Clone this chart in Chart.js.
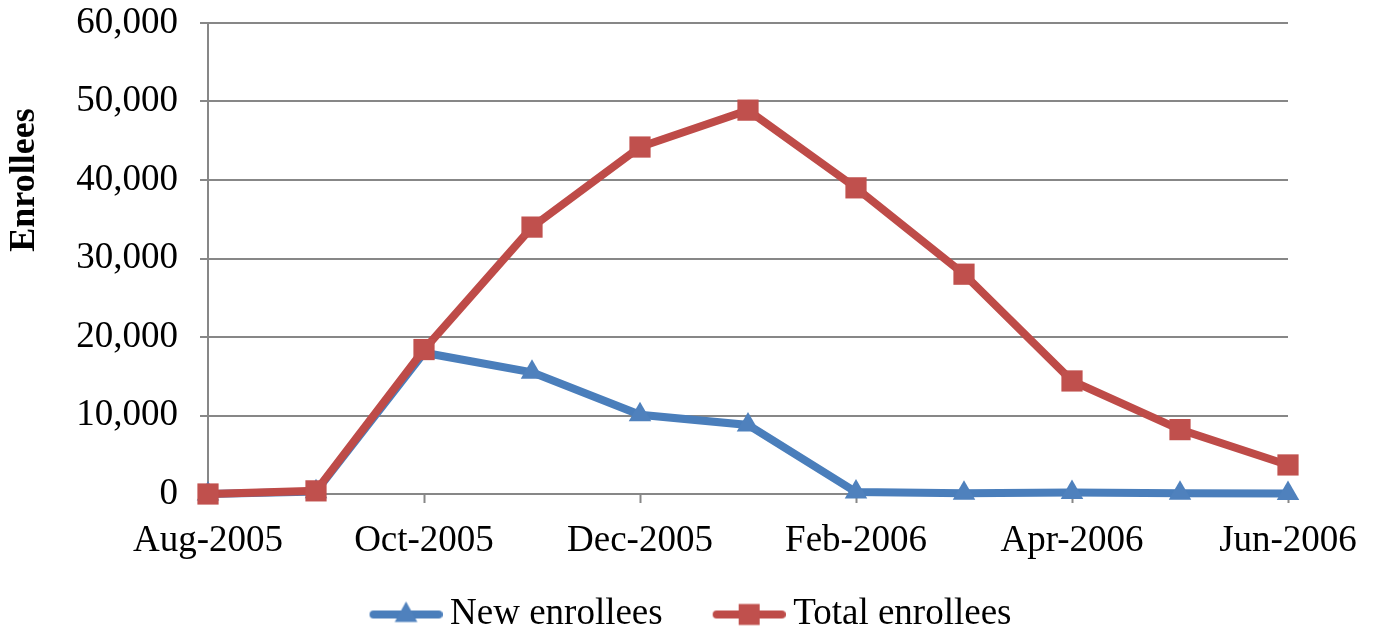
<!DOCTYPE html>
<html>
<head>
<meta charset="utf-8">
<script src="https://cdn.jsdelivr.net/npm/chart.js@4.4.1/dist/chart.umd.min.js"></script>
<style>
    html, body { margin: 0; padding: 0; background: #fff; }
    #wrap { width: 1377px; height: 637px; }
</style>
</head>
<body>
<div id="wrap"><canvas id="chart" width="1377" height="637"></canvas></div>
<script>
// Data
const months = ['Aug-2005', 'Sep-2005', 'Oct-2005', 'Nov-2005', 'Dec-2005', 'Jan-2006',
    'Feb-2006', 'Mar-2006', 'Apr-2006', 'May-2006', 'Jun-2006'];
const newEnrollees = [0, 300, 18000, 15500, 10100, 8800, 250, 100, 200, 100, 50];
const totalEnrollees = [0, 400, 18400, 34000, 44200, 48900, 39000, 28000, 14400, 8200, 3700];
const seriesNames = ['New enrollees', 'Total enrollees'];
const yTitle = 'Enrollees';
const yMax = 60000;
const yStep = 10000;

const FONT = '"Liberation Serif", "Times New Roman", serif';
const GRID = '#878787';
const BLUE_LINE = '#4A7EBB';
const BLUE_FILL = '#4F81BD';
const RED_LINE = '#BE4B48';
const RED_FILL = '#C0504D';

// legend swatch: a short line with the marker in the middle
function legendSwatch(lineColor, fillColor, shape) {
    const c = document.createElement('canvas');
    c.width = 124;
    c.height = 30;
    const g = c.getContext('2d');
    g.strokeStyle = lineColor;
    g.lineWidth = 8;
    g.lineCap = 'round';
    g.beginPath();
    g.moveTo(55, 15);
    g.lineTo(120, 15);
    g.stroke();

    const cx = 87.5, cy = 15;
    g.fillStyle = fillColor;
    g.beginPath();
    if (shape === 'rect') {
        g.rect(cx - 10.5, cy - 10.5, 21, 21);
    } else {
        g.moveTo(cx, cy - 13);
        g.lineTo(cx + 11.3, cy + 7.5);
        g.lineTo(cx - 11.3, cy + 7.5);
        g.closePath();
    }
    g.fill();
    return c;
}

const swatches = [
    legendSwatch(BLUE_LINE, BLUE_FILL, 'triangle'),
    legendSwatch(RED_LINE, RED_FILL, 'rect')
];

// the y title sits above the middle of the axis in the original
const yTitlePlugin = {
    id: 'yTitle',
    afterDraw(chart) {
        const c = chart.ctx;
        c.save();
        c.translate(25, 180);
        c.rotate(-Math.PI / 2);
        c.font = 'bold 36px ' + FONT;
        c.fillStyle = '#000';
        c.textAlign = 'center';
        c.textBaseline = 'middle';
        c.fillText(yTitle, 0, 0);
        c.restore();
    }
};

const ctx = document.getElementById('chart').getContext('2d');
new Chart(ctx, {
    type: 'line',
    data: {
        labels: months,
        datasets: [{
            label: seriesNames[0],
            data: newEnrollees,
            borderColor: BLUE_LINE,
            backgroundColor: BLUE_FILL,
            borderWidth: 8,
            pointStyle: 'triangle',
            pointRadius: 13,
            pointBorderWidth: 0,
            pointBackgroundColor: BLUE_FILL,
            tension: 0,
            clip: false,
            order: 1
        }, {
            label: seriesNames[1],
            data: totalEnrollees,
            borderColor: RED_LINE,
            backgroundColor: RED_FILL,
            borderWidth: 8,
            pointStyle: 'rect',
            pointRadius: 15,
            pointBorderWidth: 0,
            pointBackgroundColor: RED_FILL,
            tension: 0,
            clip: false,
            order: 0
        }]
    },
    options: {
        responsive: false,
        animation: false,
        layout: {
            padding: { top: 23, right: 36, bottom: -6, left: 0 }
        },
        plugins: {
            tooltip: { enabled: false },
            legend: {
                position: 'bottom',
                labels: {
                    usePointStyle: true,
                    pointStyleWidth: 102,
                    padding: 10,
                    color: '#000',
                    font: { family: FONT, size: 37 },
                    generateLabels: (chart) => chart.data.datasets.map((ds, i) => ({
                        text: ds.label,
                        pointStyle: swatches[i],
                        fillStyle: ds.backgroundColor,
                        strokeStyle: ds.borderColor,
                        lineWidth: 0,
                        hidden: false,
                        datasetIndex: i,
                        fontColor: '#000'
                    }))
                }
            }
        },
        scales: {
            x: {
                grid: {
                    drawOnChartArea: false,
                    drawTicks: true,
                    tickLength: 9,
                    tickWidth: 2,
                    tickColor: (c) => (c.index % 2 === 0 && c.index > 0) ? GRID : 'rgba(0,0,0,0)'
                },
                border: { display: true, color: GRID, width: 2 },
                ticks: {
                    autoSkip: false,
                    maxRotation: 0,
                    padding: 16,
                    color: '#000',
                    font: { family: FONT, size: 37 },
                    callback: (v, i) => (i % 2 === 0 ? months[i] : '')
                },
                afterFit: (scale) => {
                    scale.height = 92;
                    scale.paddingRight = 89;
                }
            },
            y: {
                min: 0,
                max: yMax,
                grid: {
                    color: GRID,
                    lineWidth: 2,
                    tickLength: 8,
                    tickColor: GRID
                },
                border: { display: true, color: GRID, width: 2 },
                ticks: {
                    stepSize: yStep,
                    padding: 22,
                    color: '#000',
                    font: { family: FONT, size: 37 },
                    callback: (v) => v.toLocaleString('en-US')
                },
                afterFit: (scale) => {
                    scale.width = 208;
                    scale.paddingTop = 0;
                    scale.paddingBottom = 0;
                }
            }
        }
    },
    plugins: [yTitlePlugin]
});
</script>
</body>
</html>
